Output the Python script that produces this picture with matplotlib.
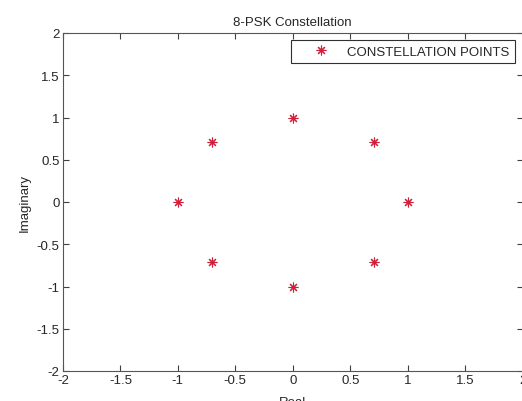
import numpy as np
import matplotlib.pyplot as plt

#--------- data ---------
real = [1, 0.7071, 0, -0.7071, -1, -0.7071, 0, 0.7071]
imag = [0, 0.7071, 1, 0.7071, 0, -0.7071, -1, -0.7071]
ticks = [-2, -1.5, -1, -0.5, 0, 0.5, 1, 1.5, 2]
tick_labels = ['-2', '-1.5', '-1', '-0.5', '0', '0.5', '1', '1.5', '2']

plt.rcParams['font.family'] = ['Liberation Sans', 'DejaVu Sans']
plt.rcParams['font.size'] = 9.5

fig = plt.figure(figsize=(5.22, 4.02), dpi=100)
ax = fig.add_axes([63/522, 30/402, 459.5/522, 338/402])

ax.plot(real, imag, linestyle='none', marker=(8, 2, 0), markersize=7,
        markeredgewidth=0.8, color='#d0203c', label='CONSTELLATION POINTS')

ax.set_xlim(-2, 2)
ax.set_ylim(-2, 2)
ax.set_xticks(ticks)
ax.set_xticklabels(tick_labels)
ax.set_yticks(ticks)
ax.set_yticklabels(tick_labels)
ax.tick_params(direction='in', length=4, width=0.8, top=True, right=True,
               colors='#404040', labelcolor='#262626', pad=2.5)
for s in ax.spines.values():
    s.set_color('#555555')
    s.set_linewidth(0.8)

ax.set_title('8-PSK Constellation', fontsize=9.5, pad=6, color='#262626')
ax.set_xlabel('Real', labelpad=7, color='#262626')
ax.set_ylabel('Imaginary', labelpad=4, color='#262626')

leg = ax.legend(loc='upper right', bbox_to_anchor=(0.9837, 0.979), borderaxespad=0,
                fancybox=False, framealpha=1, edgecolor='#303030', borderpad=0.4,
                handlelength=3.8, handletextpad=0.1)
leg.get_frame().set_linewidth(0.8)
for t in leg.get_texts():
    t.set_color('#262626')

fig.savefig('out.png', dpi=100)
